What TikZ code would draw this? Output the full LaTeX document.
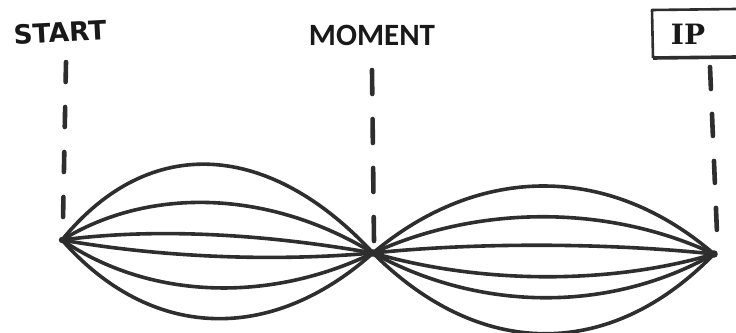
\documentclass[tikz,border=0pt]{standalone}
\usepackage{fontspec}
\setmainfont{DejaVu Sans}
\newfontfamily\momentfont{Carlito}[BoldFont={Carlito Bold}]
\newfontfamily\ipfont{DejaVu Serif}
\begin{document}
\begin{tikzpicture}[x=1pt,y=-1pt,
  ink/.style={draw=black!82, line width=3.6pt, line cap=round, line join=round},
  guide/.style={draw=black!82, line width=4.6pt, line cap=round},
  lbl/.style={inner sep=0pt, text=black!90}]
\useasboundingbox (0,0) rectangle (736,332);
% anchor points
\coordinate (S) at (62,240);
\coordinate (M) at (373,253);
\coordinate (E) at (714,254);
% guide ends
\coordinate (s1) at (66,62);  \coordinate (s2) at (63,220);
\coordinate (m1) at (372,70); \coordinate (m2) at (374,241);
\coordinate (e1) at (710,67); \coordinate (e2) at (717,233);
% labels
\node[lbl, font=\bfseries\fontsize{26.5}{26.5}\selectfont, rotate=3] (start) at (60,32) {START};
\node[lbl, font=\momentfont\bfseries\fontsize{31}{31}\selectfont] (moment) at (372,35) {MOMENT};
\node[lbl, font=\ipfont\bfseries\fontsize{28}{28}\selectfont] (ip) at (688,34) {IP};
\coordinate (b1) at (736,9); \coordinate (b2) at (652,10);
\coordinate (b3) at (653,58); \coordinate (b4) at (736,57);
\draw[draw=black!82, line width=2.6pt, line join=round] (b1) -- (b2) -- (b3);
\draw[draw=black!82, line width=3.6pt] (b3) -- (b4);
% dashed guides
\draw[guide, dash pattern=on 20pt off 25pt] (s1) -- (s2);
\draw[guide, dash pattern=on 24pt off 25pt] (m1) -- (m2);
\draw[guide, dash pattern=on 22pt off 25pt] (e1) -- (e2);
% left lens
\draw[ink] (S) .. controls (150,132) and (270,142) .. (M);
\draw[ink] (S) .. controls (150,186) and (270,190) .. (M);
\draw[ink] (S) .. controls (160,227) and (270,235) .. (M);
\draw[ink] (S) .. controls (160,257) and (270,262) .. (M);
\draw[ink] (S) .. controls (150,300) and (270,303) .. (M);
\draw[ink] (S) .. controls (150,340) and (270,345) .. (M);
% right lens
\draw[ink] (M) .. controls (480,163) and (610,164) .. (E);
\draw[ink] (M) .. controls (480,204) and (610,205) .. (E);
\draw[ink] (M) .. controls (480,242) and (610,243) .. (E);
\draw[ink] (M) .. controls (480,284) and (610,285) .. (E);
\draw[ink] (M) .. controls (480,312) and (610,313) .. (E);
\draw[ink] (M) .. controls (480,360) and (610,361) .. (E);
\fill[black!82] (S) circle (3.2pt) (M) circle (3.8pt) (E) circle (3.8pt);
\end{tikzpicture}
\end{document}
